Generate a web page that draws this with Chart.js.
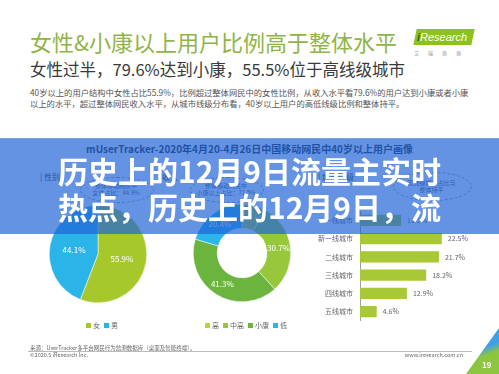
<!DOCTYPE html>
<html><head><meta charset="utf-8">
<script src="https://cdn.jsdelivr.net/npm/chart.js@4.4.0/dist/chart.umd.min.js"></script>
<style>
html,body{margin:0;padding:0;background:#fff;}
body{width:499px;height:374px;position:relative;overflow:hidden;font-family:"Noto Sans CJK SC","Noto Sans",sans-serif;}
.abs{position:absolute;white-space:nowrap;}
.box{position:absolute;}
#title{left:30px;top:30px;font-size:22px;line-height:22px;color:#8fb548;}
#sub{left:30px;top:61px;font-size:16.5px;line-height:16.5px;color:#3a3a3a;}
#para{left:30px;top:87px;font-size:8.3px;line-height:11px;color:#555;}
#sep{left:0;top:138px;width:499px;height:1px;background:#7aa2e6;}
#sect{left:0;width:499px;top:143px;text-align:center;font-size:10px;line-height:11px;font-weight:bold;color:#2a2a2a;}
.hd{font-size:8px;line-height:9px;color:#333;}
.bub{font-size:6px;line-height:7px;color:#555;text-align:center;}
.ell{position:absolute;border:1px dashed #999;border-radius:50%;}
#overlay{position:absolute;left:0;top:139px;width:499px;height:95px;background:rgba(30,98,216,0.69);z-index:5;}
#ovt{position:absolute;left:0;top:152px;width:499px;text-align:center;font-size:30px;line-height:36px;font-weight:bold;color:#fff;z-index:6;white-space:nowrap;}
.leg{position:absolute;font-size:7px;line-height:8px;color:#666;white-space:nowrap;}
.leg span.sq{display:inline-block;width:5px;height:5px;margin:0 2px 0 4px;vertical-align:0px;}
#logo{left:415px;top:29px;width:58px;height:16px;background:#8cc21e;transform:skewX(-12deg);}
#logot{left:417px;top:29px;font-size:11px;line-height:16px;color:#fff;font-family:"Liberation Sans",sans-serif;font-style:italic;}
#logoc{left:414px;top:50px;font-size:5px;line-height:6px;color:#888;letter-spacing:9px;}
.foot{font-size:5.5px;line-height:6px;color:#666;}
#fline{left:28px;top:351px;width:444px;height:1px;background:#bbb;}
</style></head><body>
<div id="title" class="abs">女性&amp;小康以上用户比例高于整体水平</div>
<div id="sub" class="abs">女性过半，79.6%达到小康，55.5%位于高线级城市</div>
<div id="para" class="abs">40岁以上的用户结构中女性占比55.9%，比例超过整体网民中的女性比例，从收入水平看79.6%的用户达到小康或者小康<br>以上的水平，超过整体网民收入水平，从城市线级分布看，40岁以上用户的高低线级比例和整体持平。</div>
<div class="box" id="logo"></div>
<div id="logot" class="abs"><b style="color:#3d5f10">i</b>Research</div>
<div id="logoc" class="abs">艾瑞咨询</div>
<div id="sep" class="abs"></div>
<div id="sect" class="abs">mUserTracker-2020年4月20-4月26日中国移动网民中40岁以上用户画像</div>
<div class="abs hd" style="left:40px;top:172px;">| 性别</div>
<div class="abs hd" style="left:158px;top:172px;">| 收入</div>
<div class="abs hd" style="left:318px;top:172px;">| 城市线级</div>
<div class="ell" style="left:80px;top:177px;width:72px;height:24px;"></div>
<div class="abs bub" style="left:80px;top:182px;width:72px;">整体移动网民中<br>女性占比：44.9%</div>
<div class="ell" style="left:190px;top:177px;width:72px;height:24px;"></div>
<div class="abs bub" style="left:190px;top:182px;width:72px;">整体移动网民中<br>小康以上占比：71.5%</div>
<div class="ell" style="left:393px;top:172px;width:77px;height:27px;"></div>
<div class="abs bub" style="left:393px;top:179px;width:77px;">高线级城市占比与<br>整体持平</div>

<div class="box" style="left:49px;top:205px;width:98px;height:98px;"><canvas id="pie"></canvas></div>
<div class="box" style="left:193px;top:204px;width:98px;height:98px;"><canvas id="donut"></canvas></div>
<div class="box" style="left:300px;top:200px;width:180px;height:132px;"><canvas id="bar"></canvas></div>
<div id="legPie" class="leg" style="left:0;width:200px;top:321px;text-align:center;"></div>
<div id="legDonut" class="leg" style="left:144px;width:200px;top:321px;text-align:center;"></div>

<div id="overlay"></div>
<div id="ovt">历史上的12月9日流量主实时<br>热点，历史上的12月9日，流</div>

<div class="abs foot" style="left:30px;top:345px;">来源：UserTracker多平台网民行为监测数据库（桌面及智能终端）。</div>
<div id="fline" class="abs"></div>
<div class="abs foot" style="left:30px;top:352px;">©2020.5 iResearch Inc.</div>
<div class="abs foot" style="left:403px;top:352px;width:60px;text-align:right;">www.iresearch.com.cn</div>
<div class="box" style="left:466px;top:328px;width:33px;height:46px;background:linear-gradient(160deg,#3fa0e8 0%,#3fa0e8 45%,#8cc63f 60%,#8cc63f 100%);clip-path:polygon(100% 0,100% 100%,0 100%);"></div>
<div class="abs" style="left:482px;top:360px;font-size:8px;line-height:9px;color:#fff;font-weight:bold;">19</div>

<script>
const genderLabels = ['女','男'];
const genderValues = [55.9, 44.1];
const genderColors = ['#a6c82a','#2bb4e8'];

const incomeLabels = ['高','中高','小康','低'];
const incomeValues = [7.6, 30.7, 41.3, 20.4];
const incomeColors = ['#b7d334','#97c83c','#6bb43e','#29b6ea'];

const cityLabels = ['一线城市','新一线城市','二线城市','三线城市','四线城市','五线城市'];
const cityValues = [11.3, 22.5, 21.7, 18.2, 12.9, 4.6];
const cityColor = '#a8c836';

const FONT = '"Noto Sans CJK SC","Noto Sans",sans-serif';

const arcLabels = {
  id:'arcLabels',
  afterDatasetsDraw(chart){
    const ctx = chart.ctx;
    const meta = chart.getDatasetMeta(0);
    ctx.save();
    ctx.fillStyle = '#fff';
    ctx.font = '8px ' + FONT;
    ctx.textAlign = 'center';
    ctx.textBaseline = 'middle';
    meta.data.forEach((el, i) => {
      const v = chart.data.datasets[0].data[i];
      if (v < 10) return;
      const p = el.tooltipPosition();
      ctx.fillText(v.toFixed(1) + '%', p.x, p.y);
    });
    ctx.restore();
  }
};

const barLabels = {
  id:'barLabels',
  afterDatasetsDraw(chart){
    const ctx = chart.ctx;
    const meta = chart.getDatasetMeta(0);
    ctx.save();
    ctx.fillStyle = '#666';
    ctx.font = '7px ' + FONT;
    ctx.textAlign = 'left';
    ctx.textBaseline = 'middle';
    meta.data.forEach((el, i) => {
      ctx.fillText(chart.data.datasets[0].data[i].toFixed(1) + '%', el.x + 6, el.y);
    });
    ctx.restore();
  }
};

const common = {responsive:true, maintainAspectRatio:false, animation:false,
  plugins:{legend:{display:false}, tooltip:{enabled:false}}};

new Chart(document.getElementById('pie'), {
  type:'pie',
  data:{labels:genderLabels, datasets:[{data:genderValues, backgroundColor:genderColors, borderColor:'#fff', borderWidth:0.5}]},
  options:Object.assign({}, common, {layout:{padding:0}}),
  plugins:[arcLabels]
});

new Chart(document.getElementById('donut'), {
  type:'doughnut',
  data:{labels:incomeLabels, datasets:[{data:incomeValues, backgroundColor:incomeColors, borderColor:'#fff', borderWidth:0.5}]},
  options:Object.assign({}, common, {cutout:'51%', layout:{padding:0}}),
  plugins:[arcLabels]
});

new Chart(document.getElementById('bar'), {
  type:'bar',
  data:{labels:cityLabels, datasets:[{data:cityValues, backgroundColor:cityColor, categoryPercentage:1, barPercentage:0.62}]},
  options:Object.assign({}, common, {
    indexAxis:'y',
    layout:{padding:{top:5,bottom:5,left:0,right:0}},
    scales:{
      x:{display:false, min:0, max:33},
      y:{grid:{display:false, drawTicks:false}, border:{display:true, color:'#a0a0a0', width:1},
         ticks:{color:'#666', font:{size:7, family:FONT}, padding:7},
         afterFit(a){ a.width = 60; }}
    }
  }),
  plugins:[barLabels]
});

function legend(id, labels, colors){
  const el = document.getElementById(id);
  el.innerHTML = labels.map((l,i)=>'<span class="sq" style="background:'+colors[i]+'"></span>'+l).join('');
}
legend('legPie', genderLabels, genderColors);
legend('legDonut', incomeLabels, incomeColors);
</script>
</body></html>
